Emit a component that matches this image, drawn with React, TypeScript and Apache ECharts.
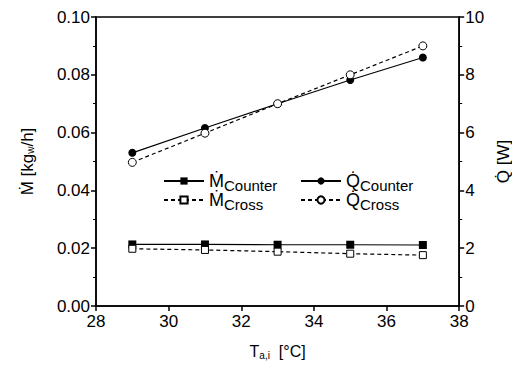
import React, { useEffect, useRef } from "react";
import * as echarts from "echarts";

const temps = [29, 31, 33, 35, 37];
const mCounter = [0.0213, 0.0213, 0.0212, 0.0212, 0.0211];
const mCross = [0.0198, 0.0194, 0.0188, 0.0181, 0.0176];
const qCounter = [5.3, 6.16, 7.0, 7.82, 8.6];
const qCross = [4.97, 5.98, 7.0, 8.0, 9.0];

const FONT = "Liberation Sans";

export default function App() {
  const ref = useRef<HTMLDivElement>(null);
  useEffect(() => {
    const chart = echarts.init(ref.current!, null, { renderer: "svg" });
    const pair = (arr: number[]) => temps.map((t, i) => [t, arr[i]]);
    const legendRich = {
      m: { fontFamily: FONT, fontSize: 18, color: "#000" },
      s: { fontFamily: FONT, fontSize: 15, color: "#000", padding: [8, 0, 0, 0] },
    };
    const mkLegend = (name: string, left: number, top: number) => ({
      data: [name],
      left,
      top,
      itemWidth: 40,
      itemHeight: 9,
      itemGap: 4,
      textStyle: { rich: legendRich },
      formatter: (n: string) => {
        const parts = n.split(" ");
        return `{m|${parts[0]}}{s|${parts[1]}}`;
      },
    });
    const axisLine = { show: true, lineStyle: { color: "#000", width: 1.5 } };
    chart.setOption({
      animation: false,
      backgroundColor: "#fff",
      grid: {
        left: 96,
        right: 58,
        top: 17,
        bottom: 66,
        show: true,
        borderColor: "#000",
        borderWidth: 1.5,
      },
      legend: [
        mkLegend("Ṁ Counter", 158, 167),
        mkLegend("Ṁ Cross", 158, 186),
        mkLegend("Q̇ Counter", 295, 167),
        mkLegend("Q̇ Cross", 295, 186),
      ],
      xAxis: {
        type: "value",
        min: 28,
        max: 38,
        interval: 2,
        axisLine,
        axisTick: { show: true, inside: false, length: 5, lineStyle: { color: "#000", width: 1.5 } },
        minorTick: { show: false },
        splitLine: { show: false },
        axisLabel: { fontFamily: FONT, fontSize: 17, color: "#000", margin: 7 },
        name: "T{sub|a,i}  [°C]",
        nameLocation: "middle",
        nameGap: 36,
        nameTextStyle: {
          fontFamily: FONT,
          fontSize: 16,
          color: "#000",
          rich: {
            sub: { fontFamily: FONT, fontSize: 10, color: "#000", padding: [8, 0, 0, 0] },
          },
        },
      },
      yAxis: [
        {
          type: "value",
          min: 0,
          max: 0.1,
          interval: 0.02,
          axisLine,
          axisTick: { show: true, length: 5, lineStyle: { color: "#000", width: 1.5 } },
          minorTick: { show: true, splitNumber: 2, length: 3, lineStyle: { color: "#000", width: 1 } },
          splitLine: { show: false },
          axisLabel: {
            fontFamily: FONT,
            fontSize: 17,
            color: "#000",
            margin: 6,
            formatter: (v: number) => v.toFixed(2),
          },
          name: "Ṁ [kg{sub|w}/h]",
          nameLocation: "middle",
          nameGap: 60,
          nameRotate: 90,
          nameTextStyle: {
            fontFamily: FONT,
            fontSize: 17,
            color: "#000",
            rich: {
              sub: { fontFamily: FONT, fontSize: 10, color: "#000", padding: [6, 0, 0, 0] },
            },
          },
        },
        {
          type: "value",
          min: 0,
          max: 10,
          interval: 2,
          position: "right",
          axisLine,
          axisTick: { show: true, length: 5, lineStyle: { color: "#000", width: 1.5 } },
          minorTick: { show: true, splitNumber: 2, length: 3, lineStyle: { color: "#000", width: 1 } },
          splitLine: { show: false },
          axisLabel: { fontFamily: FONT, fontSize: 17, color: "#000", margin: 6 },
          name: "Q̇ [W]",
          nameLocation: "middle",
          nameGap: 34,
          nameRotate: 90,
          nameTextStyle: { fontFamily: FONT, fontSize: 17, color: "#000" },
        },
      ],
      series: [
        {
          name: "Ṁ Counter",
          type: "line",
          yAxisIndex: 0,
          data: pair(mCounter),
          symbol: "rect",
          symbolSize: 8,
          itemStyle: { color: "#000" },
          lineStyle: { color: "#000", width: 1.2 },
        },
        {
          name: "Ṁ Cross",
          type: "line",
          yAxisIndex: 0,
          data: pair(mCross),
          symbol: "rect",
          symbolSize: 7,
          itemStyle: { color: "#fff", borderColor: "#000", borderWidth: 1 },
          lineStyle: { color: "#000", width: 1.2, type: [4, 3] },
        },
        {
          name: "Q̇ Counter",
          type: "line",
          yAxisIndex: 1,
          data: pair(qCounter),
          symbol: "circle",
          symbolSize: 8,
          itemStyle: { color: "#000" },
          lineStyle: { color: "#000", width: 1.2 },
        },
        {
          name: "Q̇ Cross",
          type: "line",
          yAxisIndex: 1,
          data: pair(qCross),
          symbol: "circle",
          symbolSize: 8,
          itemStyle: { color: "#fff", borderColor: "#000", borderWidth: 1 },
          lineStyle: { color: "#000", width: 1.2, type: [4, 3] },
        },
      ],
    });
    return () => chart.dispose();
  }, []);
  return <div ref={ref} style={{ width: 520, height: 372, margin: -8 }} />;
}
